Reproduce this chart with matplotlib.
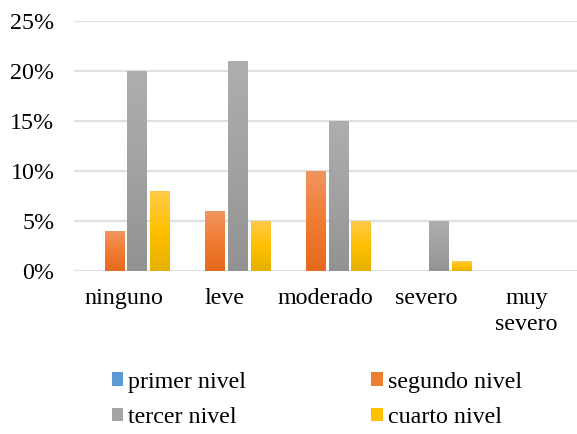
import numpy as np
import matplotlib.pyplot as plt
from matplotlib.colors import LinearSegmentedColormap
from matplotlib.patches import Patch

categories = ['ninguno', 'leve', 'moderado', 'severo', 'muy\nsevero']
series = ['primer nivel', 'segundo nivel', 'tercer nivel', 'cuarto nivel']
primer = [0, 0, 0, 0, 0]
segundo = [4, 6, 10, 0, 0]
tercer = [20, 21, 15, 5, 0]
cuarto = [8, 5, 5, 1, 0]
values = [primer, segundo, tercer, cuarto]

# gradient stops (top, middle, bottom) for each series
gradients = [
    ['#7FB0E0', '#5B9BD5', '#3D7FC0'],
    ['#F2955F', '#F07C32', '#E5691E'],
    ['#AEAEAE', '#A2A2A2', '#929292'],
    ['#FFCB4A', '#FFC000', '#E6B000'],
]
solid = ['#5B9BD5', '#ED7D31', '#A5A5A5', '#FFC000']

plt.rcParams['font.family'] = ['Liberation Serif', 'DejaVu Serif']
fs = 17.3

fig = plt.figure(figsize=(5.77, 4.34), dpi=100)
ax = fig.add_axes([0.128, 0.3756, 0.872, 0.576])

x = np.arange(len(categories))
slot = 0.226
width = 0.19
grad = np.linspace(0, 1, 256).reshape(-1, 1)

for i, vals in enumerate(values):
    cmap = LinearSegmentedColormap.from_list('g%d' % i, gradients[i])
    offs = x + (i - 1.5) * slot + 0.015
    bars = ax.bar(offs, vals, width, color='none', edgecolor='none')
    for b in bars:
        h = b.get_height()
        if h <= 0:
            continue
        x0 = b.get_x()
        im = ax.imshow(grad, cmap=cmap, aspect='auto', origin='upper',
                       extent=[x0, x0 + b.get_width(), 0, h], zorder=2)
        im.set_clip_path(b)

ax.set_xlim(-0.5, len(categories) - 0.5)
ax.set_ylim(0, 25)
ax.set_yticks(np.arange(0, 26, 5))
ax.set_yticklabels(['%d%%' % v for v in range(0, 26, 5)])
ax.set_xticks(x)
ax.set_xticklabels(categories, linespacing=1.35)
ax.tick_params(axis='both', length=0, labelsize=fs, colors='#000000')
ax.tick_params(axis='x', pad=12)
ax.tick_params(axis='y', pad=14)
ax.grid(axis='y', color='#DDE1E6', linewidth=1.6)
ax.set_axisbelow(True)
for s in ax.spines.values():
    s.set_visible(False)

handles = [Patch(facecolor=c) for c in solid]
order = [0, 2, 1, 3]
fig.legend([handles[k] for k in order], [series[k] for k in order],
           loc='upper left', bbox_to_anchor=(0.194, 0.144), ncol=2,
           frameon=False, fontsize=fs, handlelength=0.48, handleheight=0.48,
           handletextpad=0.2, columnspacing=5.2, labelspacing=0.6,
           borderaxespad=0, borderpad=0)

fig.savefig('out.png', dpi=100)
